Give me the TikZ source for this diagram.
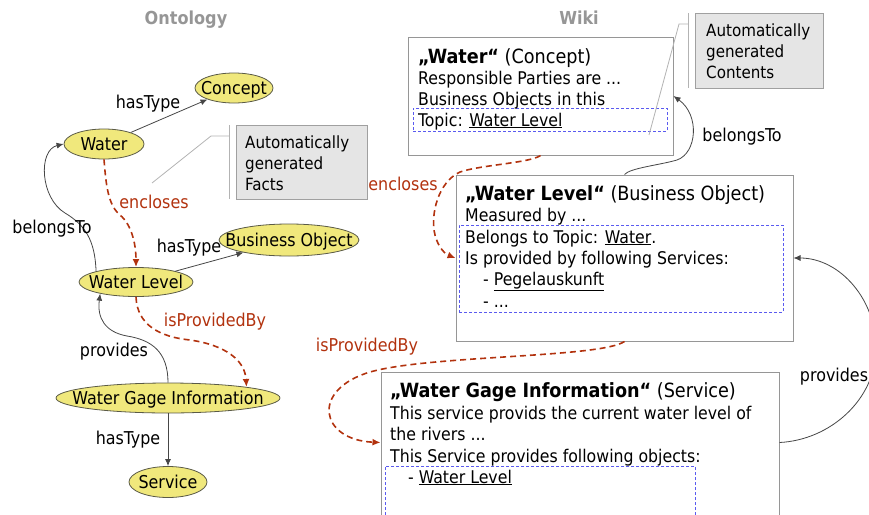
\documentclass[tikz,border=0pt]{standalone}
\usepackage{fontspec}
\setmainfont{DejaVu Sans Condensed}
\usetikzlibrary{shapes.geometric,arrows.meta,calc}
\definecolor{ovalfill}{RGB}{240,232,124}
\definecolor{ovaldraw}{RGB}{90,90,70}
\definecolor{relred}{RGB}{178,50,14}
\definecolor{titlegray}{RGB}{150,150,150}
\definecolor{notefill}{RGB}{229,229,229}
\definecolor{notedraw}{RGB}{160,160,160}
\definecolor{boxdraw}{RGB}{150,150,150}
\definecolor{dashblue}{RGB}{90,90,240}
\definecolor{linegray}{RGB}{70,70,70}
\newcommand\ovaltext[1]{\makebox[0pt]{\smash{\raisebox{-0.36em}{#1}}}}
\newcommand\wtitle[2]{{\fontsize{19.6}{22}\selectfont\textbf{#1} #2}}
\begin{document}
\begin{tikzpicture}[x=1pt,y=-1pt,
  oval/.style={ellipse, draw=ovaldraw, fill=ovalfill, line width=0.8pt, inner sep=0pt, font=\fontsize{17.7}{20}\selectfont},
  rel/.style={draw=linegray, line width=0.8pt, -{Latex[length=7pt,width=6pt]}},
  redrel/.style={draw=relred, line width=1.6pt, dash pattern=on 6pt off 4pt, -{Latex[length=8pt,width=7pt]}},
  lbl/.style={font=\fontsize{17.7}{20}\selectfont, inner sep=0pt},
  redlbl/.style={lbl, text=relred},
  ttl/.style={font=\fontsize{17.9}{20}\selectfont\bfseries, text=titlegray, inner sep=0pt, anchor=base},
  wikibox/.style={draw=boxdraw, line width=1pt, fill=white, inner sep=0pt},
  bluebox/.style={draw=dashblue, line width=0.8pt, dash pattern=on 3pt off 2pt, inner sep=0pt},
  notebox/.style={draw=notedraw, fill=notefill, line width=1pt, inner sep=0pt},
  noteline/.style={draw=notedraw!80!white, line width=0.8pt},
  wtxt/.style={font=\fontsize{17.5}{20}\selectfont, inner sep=0pt, anchor=base west},
  ntxt/.style={font=\fontsize{16.8}{20}\selectfont, inner sep=0pt, anchor=base west},
]
\path[use as bounding box] (0,0) rectangle (869,514);
\clip (0,0) rectangle (869,514);

% titles
\node[ttl] (tOnt) at (186,24.5) {Ontology};
\node[ttl] (tWiki) at (579,24.5) {Wiki};

% ---------------- Ontology ----------------
\node[oval, minimum width=78pt, minimum height=30pt] (Concept) at (234,88) {\ovaltext{Concept}};
\node[oval, minimum width=80pt, minimum height=30pt] (Water) at (104,144) {\ovaltext{Water}};
\node[oval, minimum width=140pt, minimum height=32pt] (BO) at (289,240) {\ovaltext{Business Object}};
\node[oval, minimum width=114pt, minimum height=29pt] (WL) at (136,282) {\ovaltext{Water Level}};
\node[oval, minimum width=224pt, minimum height=30pt] (WGI) at (168,398) {\ovaltext{Water Gage Information}};
\node[oval, minimum width=78pt, minimum height=31pt] (Service) at (168,482) {\ovaltext{Service}};

\draw[rel] (Water) -- (Concept);
\draw[rel] (WL) -- (BO);
\draw[rel] (WGI) -- (Service);
\draw[rel] (WL.165) .. controls (95,240) and (85,225) .. (65,213) .. controls (40,198) and (38,150) .. (Water.west);
\draw[rel] (WGI.north) .. controls (168,352) and (152,340) .. (127,336) .. controls (105,332) and (97,318) .. (WL.198);
\draw[redrel] (Water.south) .. controls (106,185) and (108,205) .. (120,215) .. controls (132,225) and (136,245) .. (WL.north);
\draw[redrel] (WL.south) .. controls (137,325) and (160,337) .. (190,340) .. controls (225,345) and (245,360) .. (WGI.8);

\node[lbl] (l1) at (148,104) {hasType};
\node[lbl] (l2) at (189,248) {hasType};
\node[lbl] (l3) at (128,440) {hasType};
\node[lbl] (l4) at (52,229) {belongsTo};
\node[lbl] (l5) at (114,352) {provides};
\node[redlbl] (l6) at (154,202) {encloses};
\node[redlbl] (l7) at (215,322) {isProvidedBy};

% note Facts
\node[notebox, minimum width=131pt, minimum height=74pt] (NF) at (301.5,162) {};
\coordinate (nfa) at (229,125);
\coordinate (nfb) at (229,199);
\coordinate (nfc) at (229,136);
\coordinate (nfd) at (211,136);
\coordinate (nfe) at (152,183);
\draw[noteline] (nfa) -- (nfb);
\draw[noteline] (nfc) -- (nfd) -- (nfe);
\node[ntxt] (nf1) at (245,148) {Automatically};
\node[ntxt] (nf2) at (245,169) {generated};
\node[ntxt] (nf3) at (245,190) {Facts};

% ---------------- Wiki ----------------
\node[wikibox, minimum width=265pt, minimum height=118pt] (WB) at (540.5,96) {};
\node[bluebox, minimum width=254pt, minimum height=23pt] (WBd) at (540,119.5) {};
\node[wtxt] (wb1) at (418,63) {\wtitle{„Water“}{(Concept)}};
\node[wtxt] (wb2) at (418,84) {Responsible Parties are ...};
\node[wtxt] (wb3) at (418,105) {Business Objects in this};
\node[wtxt] (wb4) at (418,126) {Topic: \underline{Water Level}};

\node[wikibox, minimum width=337pt, minimum height=166pt] (WLB) at (624.5,258) {};
\node[bluebox, minimum width=324pt, minimum height=87pt] (WLBd) at (621,268.5) {};
\node[wtxt] (wl1) at (465,200) {\wtitle{„Water Level“}{(Business Object)}};
\node[wtxt] (wl2) at (465,221) {Measured by ...};
\node[wtxt] (wl3) at (465,243) {Belongs to Topic: \underline{Water}.};
\node[wtxt] (wl4) at (465,264) {Is provided by following Services:};
\node[wtxt] (wl5) at (483,285) {- \underline{Pegelauskunft}};
\node[wtxt] (wl6) at (483,307) {- ...};

\node[wikibox, minimum width=398pt, minimum height=158pt] (WGB) at (580,451) {};
\node[bluebox, minimum width=310pt, minimum height=64pt] (WGBd) at (540,498) {};
\node[wtxt] (wg1) at (390,397) {\wtitle{„Water Gage Information“}{(Service)}};
\node[wtxt] (wg2) at (390,419) {This service provids the current water level of};
\node[wtxt] (wg3) at (390,440) {the rivers ...};
\node[wtxt] (wg4) at (390,462) {This Service provides following objects:};
\node[wtxt] (wg5) at (408,483) {- \underline{Water Level}};

% note Contents
\node[notebox, minimum width=128pt, minimum height=75pt] (NC) at (759,50.5) {};
\coordinate (nca) at (688,13);
\coordinate (ncb) at (688,88);
\coordinate (ncc) at (688,24);
\coordinate (ncd) at (679,24);
\coordinate (nce) at (649,135);
\draw[noteline] (nca) -- (ncb);
\draw[noteline] (ncc) -- (ncd) -- (nce);
\node[ntxt] (nc1) at (706,36) {Automatically};
\node[ntxt] (nc2) at (706,57) {generated};
\node[ntxt] (nc3) at (706,78) {Contents};

% wiki connectors
\draw[rel] (WLB.north) .. controls (630,168) and (660,165) .. (677,160) .. controls (697,153) and (700,115) .. (WB.east);
\draw[rel] ([yshift=-71pt]WGB.north east) .. controls (830,440) and (875,400) .. (876,350) .. controls (877,300) and (840,258) .. (WLB.east);
\draw[redrel] (WB.south) .. controls (530,163) and (480,165) .. (460,172) .. controls (438,182) and (430,215) .. (435,235) .. controls (438,247) and (445,254) .. (WLB.west);
\draw[redrel] (WLB.south) .. controls (600,358) and (430,355) .. (370,372) .. controls (310,390) and (320,440) .. ([yshift=-71pt]WGB.north west);

\node[redlbl] (w1) at (403,184) {encloses};
\node[redlbl] (w2) at (367,347) {isProvidedBy};
\node[lbl] (w3) at (742,137) {belongsTo};
\node[lbl] (w4) at (834,377) {provides};
\end{tikzpicture}
\end{document}
